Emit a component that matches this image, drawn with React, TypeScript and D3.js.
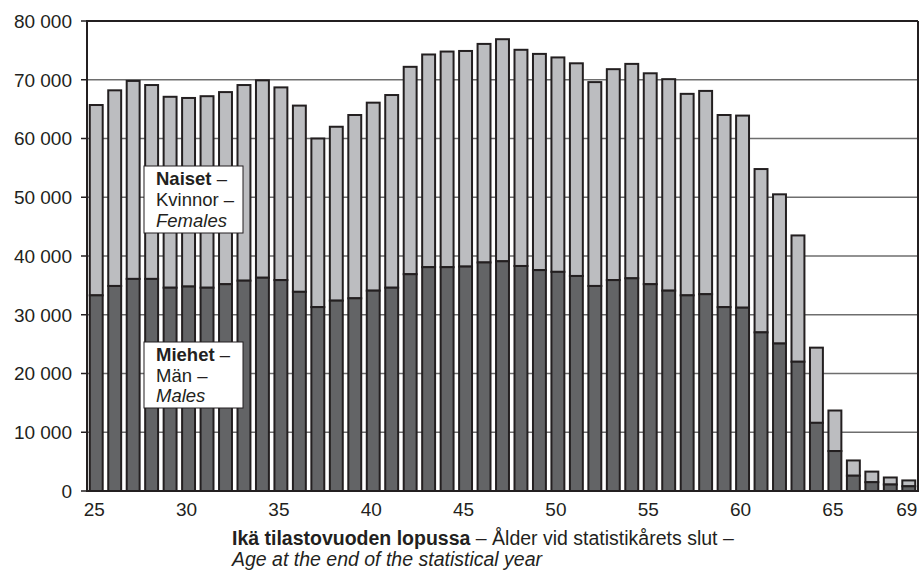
import React from "react";
import * as d3 from "d3";

const ages: number[] = [
  25, 26, 27, 28, 29, 30, 31, 32, 33, 34, 35, 36, 37, 38, 39, 40, 41, 42, 43, 44, 45, 46, 47,
  48, 49, 50, 51, 52, 53, 54, 55, 56, 57, 58, 59, 60, 61, 62, 63, 64, 65, 66, 67, 68, 69,
];

const totals: number[] = [
  65700, 68200, 69800, 69100, 67100, 66900, 67200, 67900, 69100, 69900, 68700, 65600, 60000,
  62000, 64000, 66100, 67400, 72200, 74300, 74800, 74900, 76100, 76900, 75100, 74400, 73800,
  72800, 69600, 71800, 72700, 71100, 70100, 67600, 68100, 64000, 63900, 54800, 50500, 43500,
  24400, 13700, 5200, 3300, 2300, 1800,
];

const males: number[] = [
  33300, 34900, 36100, 36100, 34600, 34800, 34600, 35200, 35800, 36300, 35900, 33900, 31300,
  32400, 32800, 34100, 34600, 36900, 38100, 38100, 38200, 38900, 39100, 38300, 37600, 37300,
  36600, 34900, 35900, 36200, 35200, 34100, 33300, 33500, 31300, 31200, 27000, 25100, 22000,
  11600, 6800, 2600, 1500, 1100, 800,
];

const yTicks: number[] = [0, 10000, 20000, 30000, 40000, 50000, 60000, 70000, 80000];
const xTickLabels: number[] = [25, 30, 35, 40, 45, 50, 55, 60, 65, 69];

const W = 923;
const H = 571;
const left = 87;
const right = 918;
const top = 21;
const bottom = 491;

const FONT = "'Liberation Sans', Arial, Helvetica, sans-serif";
const STROKE = "#231f20";
const LIGHT = "#bcbdc0";
const DARK = "#636466";

const fmt = (v: number) => (v === 0 ? "0" : d3.format(",")(v).replace(/,/g, " "));

export default function App() {
  const x = d3
    .scaleBand<number>()
    .domain(ages)
    .range([left, right])
    .paddingInner(0.3)
    .paddingOuter(0.15);
  const y = d3.scaleLinear().domain([0, 80000]).range([bottom, top]);
  const bw = x.bandwidth();

  return (
    <svg
      width={W}
      height={H}
      viewBox={`0 0 ${W} ${H}`}
      style={{ position: "absolute", left: 0, top: 0, background: "#fff" }}
      fontFamily={FONT}
    >
      <rect x={0} y={0} width={W} height={H} fill="#fff" />
      {/* gridlines */}
      {yTicks
        .filter((t) => t > 0 && t < 80000)
        .map((t) => (
          <line
            key={"g" + t}
            x1={left}
            x2={right}
            y1={y(t)}
            y2={y(t)}
            stroke="#6e6e6e"
            strokeWidth={1.4}
          />
        ))}
      {/* bars */}
      {ages.map((a, i) => {
        const bx = x(a)!;
        return (
          <g key={"b" + a}>
            <rect
              x={bx}
              y={y(totals[i])}
              width={bw}
              height={y(males[i]) - y(totals[i])}
              fill={LIGHT}
              stroke={STROKE}
              strokeWidth={2}
            />
            <rect
              x={bx}
              y={y(males[i])}
              width={bw}
              height={y(0) - y(males[i])}
              fill={DARK}
              stroke={STROKE}
              strokeWidth={2}
            />
          </g>
        );
      })}
      {/* frame */}
      <line x1={left} x2={right} y1={top} y2={top} stroke={STROKE} strokeWidth={2} />
      <line x1={right} x2={right} y1={top} y2={bottom} stroke={STROKE} strokeWidth={2} />
      <line x1={left} x2={left} y1={top - 1} y2={bottom + 1} stroke={STROKE} strokeWidth={2} />
      <line x1={left - 1} x2={right + 1} y1={bottom} y2={bottom} stroke={STROKE} strokeWidth={2} />
      {/* y ticks */}
      {yTicks.map((t) => (
        <g key={"y" + t}>
          <line x1={left - 6} x2={left} y1={y(t)} y2={y(t)} stroke={STROKE} strokeWidth={1.5} />
          <text
            x={72}
            y={y(t)}
            dy="0.36em"
            textAnchor="end"
            fontSize={19}
            fill="#231f20"
          >
            {fmt(t)}
          </text>
        </g>
      ))}
      {/* x ticks */}
      {xTickLabels.map((a) => (
        <text
          key={"x" + a}
          x={x(a)! + bw / 2 - 2}
          y={516}
          textAnchor="middle"
          fontSize={19}
          fill="#231f20"
        >
          {a}
        </text>
      ))}
      {/* x axis title */}
      <text x={232} y={545} fontSize={19.5} fill="#231f20">
        <tspan fontWeight="bold">Ikä tilastovuoden lopussa</tspan>
        <tspan> – Ålder vid statistikårets slut –</tspan>
      </text>
      <text x={232} y={566} fontSize={19.5} fontStyle="italic" fill="#231f20">
        Age at the end of the statistical year
      </text>
      {/* legend labels */}
      <rect x={144} y={166} width={99} height={67} fill="#fff" stroke={STROKE} strokeWidth={1} />
      <text fontSize={18.5} fill="#231f20">
        <tspan x={156} y={185} fontWeight="bold">Naiset</tspan>
        <tspan> –</tspan>
        <tspan x={156} y={206}>Kvinnor –</tspan>
        <tspan x={156} y={227} fontStyle="italic">Females</tspan>
      </text>
      <rect x={144} y={342} width={99} height={66} fill="#fff" stroke={STROKE} strokeWidth={1} />
      <text fontSize={18.5} fill="#231f20">
        <tspan x={156} y={361} fontWeight="bold">Miehet</tspan>
        <tspan> –</tspan>
        <tspan x={156} y={382}>Män –</tspan>
        <tspan x={156} y={402} fontStyle="italic">Males</tspan>
      </text>
    </svg>
  );
}
